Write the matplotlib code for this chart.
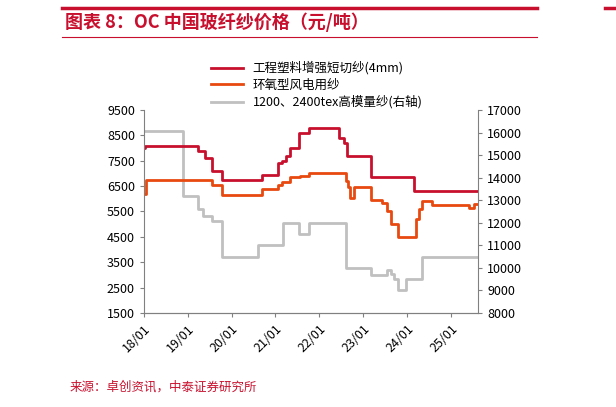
import matplotlib.pyplot as plt
import matplotlib.lines as mlines

plt.rcParams['font.family'] = ['Noto Sans CJK SC', 'DejaVu Sans']

# fractional years, step values
red_x = [2018.0, 2018.03, 2019.23, 2019.39, 2019.54, 2019.77, 2020.69, 2021.05, 2021.15,
         2021.24, 2021.33, 2021.53, 2021.77, 2022.45, 2022.56, 2022.64, 2023.17, 2024.16, 2025.62]
red_y = [8000, 8100, 7900, 7600, 7100, 6750, 6950, 7400, 7500, 7700, 8000, 8600, 8800,
         8400, 8200, 7700, 6850, 6300, 6300]

org_x = [2018.0, 2018.05, 2019.54, 2019.77, 2020.69, 2021.05, 2021.15, 2021.32, 2021.55,
         2021.77, 2022.6, 2022.66, 2022.7, 2022.8, 2023.17, 2023.44, 2023.55, 2023.63,
         2023.8, 2024.2, 2024.28, 2024.35, 2024.58, 2025.41, 2025.52, 2025.62]
org_y = [6200, 6750, 6550, 6150, 6400, 6550, 6650, 6850, 6900, 7000, 6700, 6450, 6050,
         6450, 5950, 5850, 5500, 5000, 4500, 5200, 5600, 5900, 5750, 5650, 5800, 5800]

gray_x = [2018.0, 2018.88, 2019.23, 2019.35, 2019.54, 2019.78, 2020.6, 2021.17, 2021.53,
          2021.77, 2022.6, 2023.17, 2023.55, 2023.64, 2023.7, 2023.8, 2023.98, 2024.35, 2025.62]
gray_y = [16050, 13200, 12600, 12300, 12100, 10500, 11000, 12000, 11500, 12000, 10000,
          9700, 9900, 9750, 9500, 9000, 9500, 10500, 10500]

xticks = [2018, 2019, 2020, 2021, 2022, 2023, 2024, 2025]
xlabels = ['18/01', '19/01', '20/01', '21/01', '22/01', '23/01', '24/01', '25/01']
names = ['工程塑料增强短切纱(4mm)', '环氧型风电用纱', '1200、2400tex高模量纱(右轴)']

RED = '#c8102e'
ORANGE = '#e8490f'
GRAY = '#c0c0c0'

fig = plt.figure(figsize=(6.16, 4.07), dpi=100)
W, H = 616, 407
ax = fig.add_axes([144 / W, 1 - 313 / H, 334 / W, 203 / H])
ax2 = ax.twinx()

ax2.plot(gray_x, gray_y, drawstyle='steps-post', color=GRAY, lw=2)
ax.plot(org_x, org_y, drawstyle='steps-post', color=ORANGE, lw=2)
ax.plot(red_x, red_y, drawstyle='steps-post', color=RED, lw=2)
ax.set_zorder(ax2.get_zorder() + 1)
ax.patch.set_visible(False)

ax.set_xlim(2018, 2025.62)
ax.set_ylim(1500, 9500)
ax.set_yticks(range(1500, 9501, 1000))
ax2.set_ylim(8000, 17000)
ax2.set_yticks(range(8000, 17001, 1000))
ax.set_xticks(xticks)
ax.set_xticklabels(xlabels, rotation=45, ha='right', rotation_mode='anchor')
for a in (ax, ax2):
    for s in ('top',):
        a.spines[s].set_visible(False)
    for s in ('left', 'right', 'bottom'):
        a.spines[s].set_color('#808080')
    a.tick_params(labelsize=9, color='#808080', length=3)
ax2.spines['left'].set_visible(False)
ax.spines['right'].set_visible(False)

handles = [mlines.Line2D([], [], color=c, lw=2) for c in (RED, ORANGE, GRAY)]
fig.legend(handles, names, loc='upper left', bbox_to_anchor=(200 / W, 1 - 50 / H),
           frameon=False, fontsize=9, handlelength=2.5, labelspacing=0.3)

fig.add_artist(mlines.Line2D([62 / W, 537 / W], [1 - 8 / H, 1 - 8 / H], color=RED, lw=2.5))
fig.add_artist(mlines.Line2D([62 / W, 537 / W], [1 - 37 / H, 1 - 37 / H], color=RED, lw=0.8))
fig.add_artist(mlines.Line2D([605 / W, 1], [1 - 8 / H, 1 - 8 / H], color=RED, lw=2.5))
fig.text(65 / W, 1 - 22 / H, '图表 8：OC 中国玻纤纱价格（元/吨）', color=RED, fontsize=13,
         fontweight='bold', style='italic', va='center')
fig.text(70 / W, 1 - 387 / H, '来源：卓创资讯，中泰证券研究所', color=RED, fontsize=9, va='center')

fig.savefig('out.png', dpi=100)
